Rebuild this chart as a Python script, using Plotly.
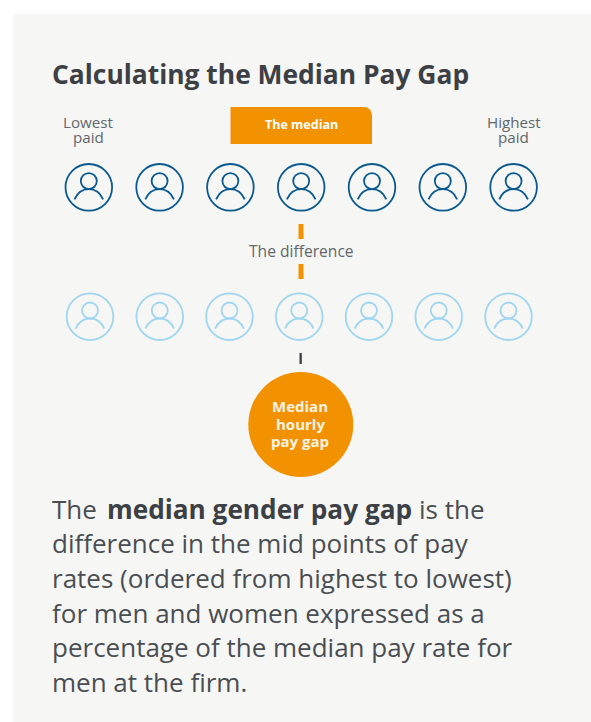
import plotly.graph_objects as go

# ---- content ----
TITLE = "Calculating the Median Pay Gap"
RANKS = [1, 2, 3, 4, 5, 6, 7]
MEDIAN_RANK = 4
END_LABELS = [["Lowest", "paid"], ["Highest", "paid"]]
MEDIAN_LABEL = "The median"
DIFF_LABEL = "The difference"
GAP_LINES = ["Median", "hourly", "pay gap"]
BODY_RUNS = ["The", "median gender pay gap", "is the"]
BODY_LINES = [
    "difference in the mid points of pay",
    "rates (ordered from highest to lowest)",
    "for men and women expressed as a",
    "percentage of the median pay rate for",
    "men at the firm.",
]

# ---- styles ----
W, H = 591, 722
FONT = "Open Sans"
PANEL = "#f6f6f5"
ORANGE = "#f39200"
NAVY = "#0b5a8f"
LIGHT = "#a0d6f0"
DARK = "#3c4045"
BODYC = "#4a4e52"
GREY = "#63676b"


def x1(r):
    return 88.8 + 70.8 * (r - 1)


def x2(r):
    return 90 + 69.75 * (r - 1)


Y1, Y2 = 187.3, 316.7

fig = go.Figure()
shapes = [
    dict(type="rect", x0=13, x1=591, y0=14, y1=722, fillcolor=PANEL, line_width=0, layer="below"),
    dict(type="path", path="M 230.5 144 L 230.5 107 L 363 107 Q 372 107 372 116 L 372 144 Z",
         fillcolor=ORANGE, line_width=0, layer="below"),
    dict(type="rect", x0=298.5, x1=303.5, y0=224, y1=239, fillcolor=ORANGE, line_width=0),
    dict(type="rect", x0=298.5, x1=303.5, y0=264, y1=279, fillcolor=ORANGE, line_width=0),
    dict(type="rect", x0=299.5, x1=301.8, y0=353, y1=364, fillcolor=DARK, line_width=0),
    dict(type="circle", x0=248.3, x1=353.3, y0=372, y1=477, fillcolor=ORANGE, line_width=0, layer="below"),
]

for xf, y, col in ((x1, Y1, NAVY), (x2, Y2, LIGHT)):
    xs = [xf(r) for r in RANKS]
    fig.add_trace(go.Scatter(
        x=xs, y=[y] * 7, mode="markers", hoverinfo="skip",
        marker=dict(symbol="circle-open", size=46.6, color=col, line=dict(color=col, width=1.8))))
    fig.add_trace(go.Scatter(
        x=xs, y=[y - 6.2] * 7, mode="markers", hoverinfo="skip",
        marker=dict(symbol="circle-open", size=16, color=col, line=dict(color=col, width=1.8))))
    for cx in xs:
        shapes.append(dict(
            type="path",
            path=(f"M {cx-14.3} {y+12} C {cx-11.5} {y+5.5} {cx-6} {y+1.8} {cx} {y+1.8} "
                  f"C {cx+6} {y+1.8} {cx+11.5} {y+5.5} {cx+14.3} {y+12}"),
            line=dict(color=col, width=1.8), layer="above"))


def txt(x, y, s, size, color, anchor="center"):
    return dict(x=x, y=y, text=s, showarrow=False, xanchor=anchor, yanchor="middle",
                borderpad=0, borderwidth=0,
                font=dict(family=FONT, size=size, color=color))


ann = [
    txt(51.5, 73.5, f"<b>{TITLE}</b>", 26.4, DARK, "left"),
    txt(x1(MEDIAN_RANK), 124.5, f"<b>{MEDIAN_LABEL}</b>", 12.5, "white"),
    txt(301, 251, DIFF_LABEL, 15.6, GREY),
]
for xp, pair in zip((x1(RANKS[0]), x1(RANKS[-1])), END_LABELS):
    ann.append(txt(xp, 121.5, pair[0], 15.2, GREY))
    ann.append(txt(xp, 136.5, pair[1], 15.2, GREY))
for s, y in zip(GAP_LINES, (405.5, 423.5, 441)):
    ann.append(txt(300, y, f"<b>{s}</b>", 15, "#fdf3e3"))
ann.append(txt(51.5, 508.5, BODY_RUNS[0], 26, BODYC, "left"))
ann.append(txt(107, 508.5, f"<b>{BODY_RUNS[1]}</b>", 26.2, DARK, "left"))
ann.append(txt(419, 508.5, BODY_RUNS[2], 26, BODYC, "left"))
for i, s in enumerate(BODY_LINES):
    ann.append(txt(51.5, 508.5 + 34.7 * (i + 1), s, 26, BODYC, "left"))

fig.update_layout(
    width=W, height=H, margin=dict(l=0, r=0, t=0, b=0),
    paper_bgcolor="white", plot_bgcolor="rgba(0,0,0,0)",
    showlegend=False, shapes=shapes, annotations=ann,
    xaxis=dict(range=[0, W], visible=False, fixedrange=True),
    yaxis=dict(range=[H, 0], visible=False, fixedrange=True),
)
fig.write_html("out.html", config={"displayModeBar": False},
               post_script="document.body.style.margin='0';document.body.style.overflow='hidden';")
